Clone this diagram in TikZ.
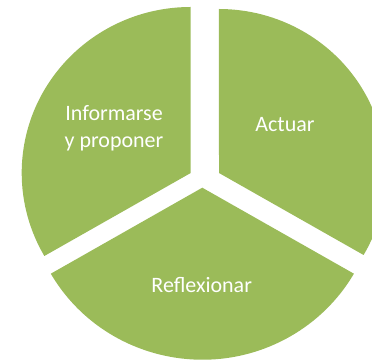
\documentclass[tikz,border=0pt]{standalone}
\usepackage{fontspec}
\setmainfont{Carlito}
\definecolor{olivegreen}{HTML}{9BBB59}

\begin{document}
\begin{tikzpicture}
    [
    x=1pt, y=1pt,
    sector/.style={fill=olivegreen},
    word/.style={text=white, font=\fontsize{22}{26.8}\selectfont, align=center, inner sep=0pt},
    ]
    \useasboundingbox (0,0) rectangle (372,361);
    \clip (0,0) rectangle (372,361);
    \coordinate (v1) at (190.7,188);
    \coordinate (v2) at (219,188);
    \coordinate (v3) at (202.3,173.3);
    \fill [sector] (v1) -- ++(0,166) arc [start angle=90, end angle=210, x radius=169, y radius=166] -- cycle;
    \fill [sector] (v2) -- ++(144.6,-82) arc [start angle=-30, end angle=90, x radius=167, y radius=164] -- cycle;
    \fill [sector] (v3) -- ++(-151.5,-86) arc [start angle=210, end angle=330, x radius=175, y radius=172] -- cycle;

    \node (informarse) at (114,233) [word] {Informarse\\y proponer};
    \node (actuar) at (285,236) [word] {Actuar};
    \node (reflexionar) at (201.7,76) [word] {Reflexionar};
\end{tikzpicture}
\end{document}
